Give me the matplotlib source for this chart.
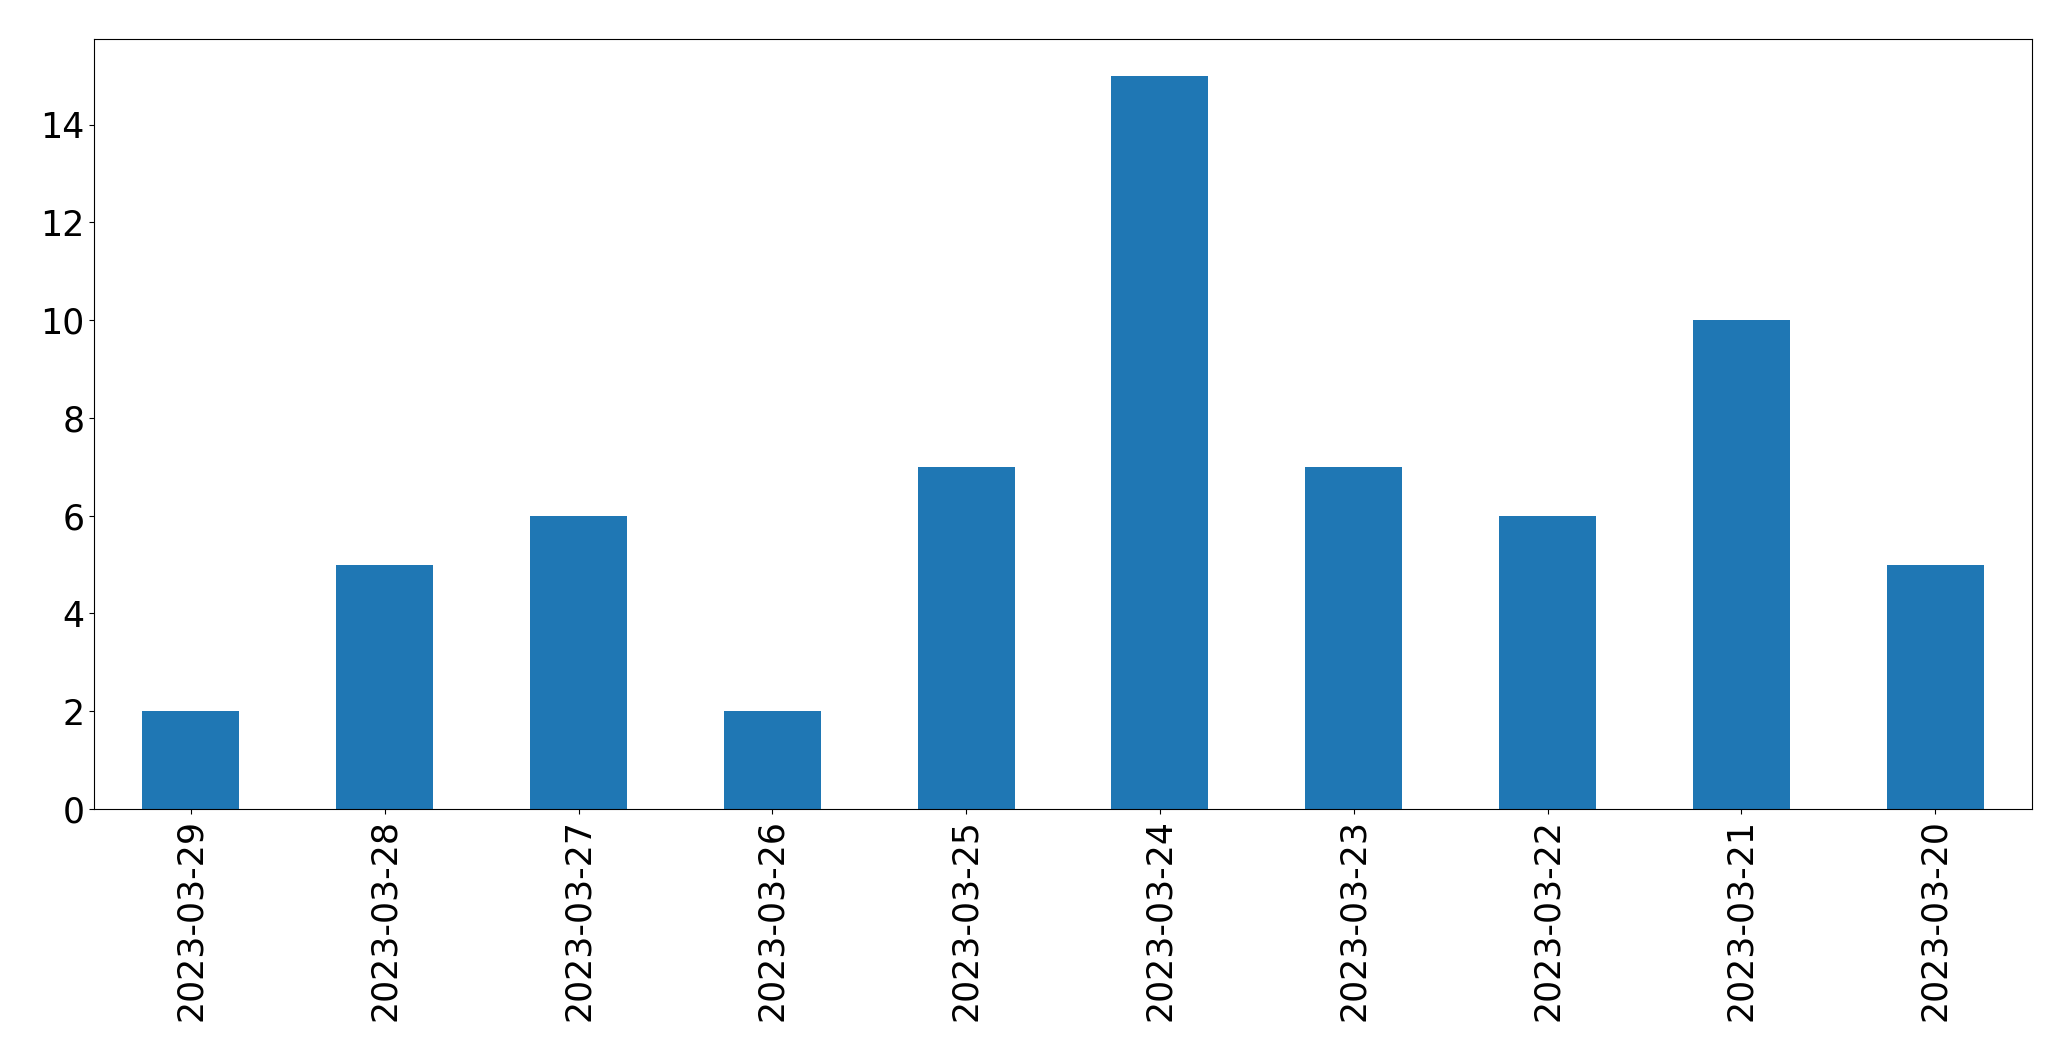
import matplotlib
matplotlib.use("Agg")
import matplotlib.pyplot as plt

# Fechas y valores
fechas = ['2023-03-29', '2023-03-28', '2023-03-27', '2023-03-26', '2023-03-25',
          '2023-03-24', '2023-03-23', '2023-03-22', '2023-03-21', '2023-03-20']
valores = [2, 5, 6, 2, 7, 15, 7, 6, 10, 5]

fig = plt.figure(figsize=(20.71, 10.61), dpi=100)
ax = fig.add_subplot(111)
fig.subplots_adjust(left=0.0454, right=0.9812, top=0.9632, bottom=0.2375)

x = range(len(fechas))
ax.bar(x, valores, width=0.5, color='#1f77b4')

ax.set_xticks(list(x))
ax.set_xticklabels(fechas, rotation=90)
ax.set_xlim(-0.5, len(fechas) - 0.5)
ax.set_ylim(0, max(valores) * 1.05)
ax.tick_params(axis='both', labelsize=25)

fig.savefig('out.png', dpi=100)
